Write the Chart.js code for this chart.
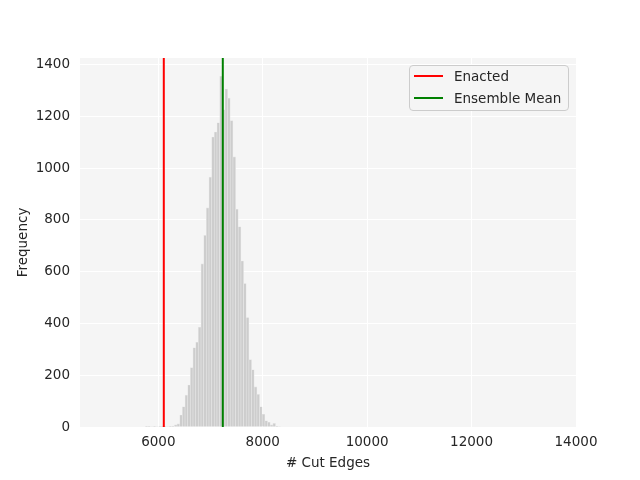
<!DOCTYPE html>
<html>
<head>
<meta charset="utf-8">
<script src="https://cdn.jsdelivr.net/npm/chart.js@4/dist/chart.umd.min.js"></script>
<style>
  body { margin: 0; background: #fff; }
  #wrap { position: relative; width: 640px; height: 480px; }
  #legend {
    position: absolute; left: 409px; top: 65px; width: 158px; height: 44px;
    background: rgba(245,245,245,0.85); border: 1px solid #cccccc; border-radius: 4px;
    font-family: "DejaVu Sans", sans-serif; font-size: 13.5px; color: #262626;
  }
  .item { position: absolute; left: 4px; height: 16px; line-height: 16px; }
  .item span.swatch { position: absolute; left: 0; top: 7px; width: 29px; height: 2px; }
  .item span.lbl { position: absolute; left: 40px; top: 0; white-space: nowrap; }
</style>
</head>
<body>
<div id="wrap">
  <canvas id="histChart" width="640" height="480"></canvas>
  <div id="legend"></div>
</div>
<script>
// histogram bins (bin centre, # cut edges) and counts
const binCenters = [5774, 5825, 5876, 5927, 5978, 6029, 6078, 6129, 6180, 6231, 6282, 6333, 6384,
  6435, 6486, 6537, 6588, 6639, 6690, 6741, 6792, 6843, 6894, 6945, 6996, 7047, 7098, 7149,
  7200, 7251, 7302, 7353, 7404, 7455, 7506, 7557, 7608, 7659, 7710, 7761, 7812, 7863, 7914,
  7965, 8016, 8067, 8118, 8169, 8220, 8271, 8322];
const binCounts = [1, 1, 2, 1, 2, 1, 1, 1, 2, 3, 4, 8, 12,
  46, 78, 123, 162, 229, 306, 327, 385, 630, 740, 846, 965, 1120, 1139, 1175,
  1355, 1225, 1305, 1270, 1183, 1043, 841, 773, 641, 554, 423, 260, 221, 155, 126,
  78, 49, 24, 18, 8, 14, 3, 2];

const enactedValue = 6105;
const ensembleMean = 7235;

const xTicks = [6000, 8000, 10000, 12000, 14000];
const yTicks = [0, 200, 400, 600, 800, 1000, 1200, 1400];
const xRange = [4500, 14000];
const yRange = [0, 1425];

const font = { family: "DejaVu Sans", size: 13.5 };
const textColor = "#262626";

var barData = binCenters.map(function (x, i) { return { x: x, y: binCounts[i] }; });

var chartDiv = document.getElementById("histChart");
var myChart = new Chart(chartDiv, {
  type: 'bar',
  data: {
    datasets: [
      {
        label: 'Enacted',
        type: 'line',
        data: [{ x: enactedValue, y: yRange[0] }, { x: enactedValue, y: yRange[1] }],
        borderColor: '#ff0000',
        borderWidth: 2,
        pointRadius: 0,
        order: 0
      },
      {
        label: 'Ensemble Mean',
        type: 'line',
        data: [{ x: ensembleMean, y: yRange[0] }, { x: ensembleMean, y: yRange[1] }],
        borderColor: '#008000',
        borderWidth: 2,
        pointRadius: 0,
        order: 0
      },
      {
        label: 'hist',
        data: barData,
        backgroundColor: '#cdcdcd',
        borderColor: '#e4e4e4',
        borderWidth: 0.6,
        barPercentage: 1,
        categoryPercentage: 1,
        order: 1
      }
    ]
  },
  options: {
    responsive: false,
    animation: false,
    layout: { padding: { top: 58, right: 64, left: 0, bottom: 0 } },
    plugins: {
      legend: { display: false },
      tooltip: { enabled: false }
    },
    scales: {
      x: {
        type: 'linear',
        min: xRange[0],
        max: xRange[1],
        offset: false,
        afterBuildTicks: function (s) { s.ticks = xTicks.map(function (v) { return { value: v }; }); },
        afterFit: function (s) { s.height = 53; },
        grid: { color: '#ffffff', lineWidth: 1, drawTicks: false, offset: false },
        border: { display: false },
        ticks: { font: font, color: textColor, padding: 7, maxRotation: 0, callback: function (v) { return String(v); } },
        title: { display: true, text: '# Cut Edges', font: font, color: textColor, padding: 8 }
      },
      y: {
        min: yRange[0],
        max: yRange[1],
        afterBuildTicks: function (s) { s.ticks = yTicks.map(function (v) { return { value: v }; }); },
        afterFit: function (s) { s.width = 80; },
        grid: { color: '#ffffff', lineWidth: 1, drawTicks: false },
        border: { display: false },
        ticks: { font: font, color: textColor, padding: 10, callback: function (v) { return String(v); } },
        title: { display: true, text: 'Frequency', font: font, color: textColor, padding: 15 }
      }
    }
  },
  plugins: [{
    id: 'plotBg',
    beforeDraw: function (chart) {
      var a = chart.chartArea, ctx = chart.ctx;
      ctx.save();
      ctx.fillStyle = '#f5f5f5';
      ctx.fillRect(a.left, a.top, a.right - a.left, a.bottom - a.top);
      ctx.restore();
    }
  }]
});

// legend built from the line datasets
var legend = document.getElementById("legend");
myChart.data.datasets.filter(function (d) { return d.type === 'line'; }).forEach(function (d, i) {
  var item = document.createElement('div');
  item.className = 'item';
  item.style.top = (2 + i * 22) + 'px';
  item.innerHTML = '<span class="swatch" style="background:' + d.borderColor + '"></span><span class="lbl">' + d.label + '</span>';
  legend.appendChild(item);
});
</script>
</body>
</html>
